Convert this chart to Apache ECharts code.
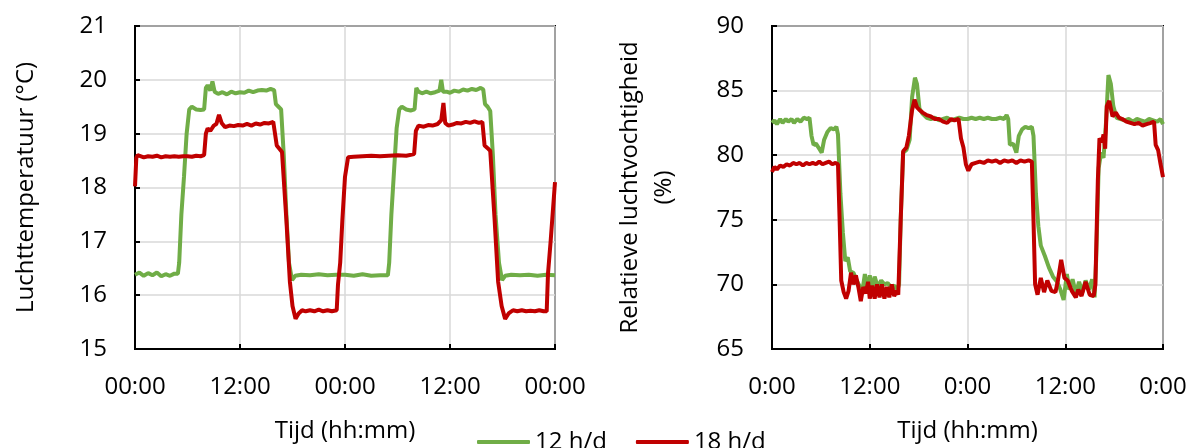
<!DOCTYPE html>
<html>
<head>
<meta charset="utf-8">
<script src="https://cdn.jsdelivr.net/npm/echarts@6/dist/echarts.min.js"></script>
<style>html,body{margin:0;padding:0;background:#fff}#c{width:1190px;height:448px}</style>
</head>
<body>
<div id="c"></div>
<script>
// ---- data (time in hours since start, value) ----
const seriesNames = ['12 h/d', '18 h/d'];
const xTicksLeft = ['00:00', '12:00', '00:00', '12:00', '00:00'];
const xTicksRight = ['0:00', '12:00', '0:00', '12:00', '0:00'];
const yTicksLeft = [15, 16, 17, 18, 19, 20, 21];
const yTicksRight = [65, 70, 75, 80, 85, 90];

// Luchttemperatuur, 12 h/d
const temp12 = [[0,16.38],[0.5,16.42],[1,16.36],[1.5,16.41],[2,16.37],[2.5,16.42],[3,16.35],[3.5,16.39],[4,16.36],[4.5,16.4],[4.9,16.4],[5.05,16.6],[5.3,17.5],[5.6,18.2],[5.9,19.0],[6.2,19.45],[6.5,19.5],[7,19.45],[7.5,19.44],[7.9,19.45],[8.1,19.85],[8.3,19.9],[8.6,19.8],[8.85,19.97],[9.1,19.78],[9.5,19.74],[10,19.77],[10.5,19.73],[11,19.78],[11.5,19.75],[12,19.77],[12.5,19.76],[13,19.8],[13.5,19.77],[14,19.8],[14.5,19.81],[15,19.8],[15.5,19.83],[15.9,19.81],[16.1,19.55],[16.4,19.5],[16.7,19.45],[17.0,18.6],[17.3,17.5],[17.6,16.6],[17.95,16.28],[18.3,16.36],[19,16.38],[20,16.37],[21,16.39],[22,16.37],[23,16.38],[24,16.38],[25,16.36],[26,16.39],[27,16.36],[28,16.37],[28.9,16.37],[29.05,16.6],[29.3,17.5],[29.6,18.3],[29.9,19.1],[30.2,19.45],[30.5,19.5],[31,19.45],[31.5,19.43],[31.95,19.45],[32.15,19.85],[32.4,19.78],[32.8,19.75],[33.3,19.78],[33.8,19.75],[34.3,19.77],[34.8,19.8],[35.0,20.0],[35.2,19.78],[35.6,19.78],[36,19.76],[36.5,19.8],[37,19.78],[37.5,19.82],[38,19.8],[38.5,19.83],[39,19.81],[39.5,19.85],[39.8,19.82],[40.0,19.55],[40.3,19.5],[40.6,19.42],[40.9,18.6],[41.2,17.5],[41.6,16.6],[41.95,16.28],[42.3,16.36],[43,16.38],[44,16.37],[45,16.38],[46,16.36],[47,16.38],[48,16.37]];

// Luchttemperatuur, 18 h/d
const temp18 = [[0,18.02],[0.15,18.55],[0.3,18.6],[1,18.56],[1.5,18.58],[2,18.57],[2.5,18.59],[3,18.56],[3.5,18.58],[4,18.57],[4.5,18.58],[5,18.57],[5.5,18.58],[6,18.58],[6.5,18.57],[7,18.59],[7.5,18.58],[7.9,18.6],[8.1,19.0],[8.3,19.1],[8.6,19.05],[9,19.15],[9.3,19.18],[9.6,19.35],[9.9,19.2],[10.3,19.12],[10.8,19.15],[11.3,19.14],[11.8,19.16],[12.3,19.15],[12.8,19.18],[13.3,19.15],[13.8,19.19],[14.3,19.17],[14.8,19.2],[15.3,19.19],[15.8,19.22],[16.0,19.2],[16.2,18.78],[16.5,18.72],[16.8,18.66],[17.3,17.4],[17.7,16.25],[18.0,15.8],[18.35,15.56],[18.7,15.66],[19.1,15.72],[19.5,15.7],[20,15.72],[20.5,15.7],[21,15.73],[21.5,15.7],[22,15.72],[22.5,15.7],[23.05,15.72],[23.2,16.2],[23.45,16.6],[23.7,17.4],[24.0,18.2],[24.35,18.56],[25,18.57],[26,18.58],[27,18.59],[28,18.58],[29,18.59],[30,18.6],[31,18.59],[31.9,18.62],[32.1,19.05],[32.4,19.15],[33,19.13],[33.5,19.16],[34,19.15],[34.6,19.18],[35.0,19.25],[35.25,19.57],[35.45,19.2],[35.8,19.15],[36.3,19.17],[36.8,19.2],[37.3,19.19],[37.8,19.22],[38.3,19.2],[38.8,19.23],[39.3,19.2],[39.7,19.22],[39.95,18.78],[40.3,18.73],[40.6,18.68],[41.1,17.4],[41.5,16.25],[41.9,15.8],[42.3,15.56],[42.7,15.66],[43.2,15.72],[43.7,15.7],[44.2,15.72],[44.7,15.7],[45.2,15.71],[45.7,15.7],[46.2,15.72],[46.7,15.7],[47.05,15.7],[47.2,16.4],[47.5,17.0],[48,18.1]];

// Relatieve luchtvochtigheid, 12 h/d
const rh12 = [[0,82.5],[0.3,82.7],[0.6,82.4],[1,82.8],[1.3,82.5],[1.7,82.8],[2,82.6],[2.4,82.8],[2.7,82.5],[3.1,82.8],[3.5,82.6],[3.9,82.9],[4.3,82.8],[4.6,82.9],[4.85,81.5],[5.1,80.8],[5.4,80.9],[5.8,80.5],[6.1,80.2],[6.4,81.2],[6.8,81.8],[7.2,82.1],[7.6,82.0],[7.9,82.2],[8.1,81.6],[8.4,77],[8.7,74],[9.0,71.8],[9.3,72.1],[9.6,71.0],[10.0,70.9],[10.4,70.3],[10.8,69.8],[11.1,69.5],[11.4,70.8],[11.7,69.5],[12.0,70.7],[12.3,69.5],[12.6,70.6],[13.0,69.8],[13.4,70.3],[13.8,70.0],[14.2,70.1],[14.6,69.8],[15.0,69.9],[15.4,69.6],[15.6,70.0],[15.8,75],[16.1,80.2],[16.5,80.4],[16.9,81.2],[17.2,84.5],[17.55,86.0],[17.8,85.5],[18.1,83.6],[18.5,83.2],[19,82.9],[19.5,82.8],[20,82.9],[20.5,82.7],[21,82.8],[21.5,82.9],[22,82.7],[22.5,82.8],[23,82.9],[23.5,82.8],[24,82.8],[24.5,82.9],[25,82.8],[25.5,82.9],[26,82.8],[26.5,82.9],[27,82.8],[27.5,82.8],[28,82.9],[28.5,82.8],[28.8,83.1],[29.0,82.8],[29.2,80.8],[29.6,80.9],[30.0,80.2],[30.3,81.5],[30.7,82.0],[31.1,82.2],[31.5,82.1],[31.9,82.2],[32.1,81.5],[32.4,77],[32.7,74.5],[33.0,73.0],[33.5,72.2],[34.0,71.3],[34.5,70.6],[35.0,70.2],[35.4,69.6],[35.8,68.8],[36.2,70.8],[36.5,69.6],[36.9,70.4],[37.3,69.3],[37.7,70.2],[38.1,69.4],[38.5,70.3],[38.9,69.6],[39.3,70.4],[39.6,69.0],[39.8,72],[40.1,79],[40.4,80.2],[40.7,79.8],[41.0,82.5],[41.3,86.2],[41.6,85.5],[41.9,83.8],[42.3,82.9],[42.8,82.8],[43.3,82.7],[43.8,82.8],[44.3,82.6],[44.8,82.8],[45.3,82.7],[45.8,82.6],[46.3,82.8],[46.8,82.7],[47.3,82.6],[47.7,82.8],[48,82.4]];

// Relatieve luchtvochtigheid, 18 h/d
const rh18 = [[0,78.7],[0.3,79.1],[0.6,78.9],[1,79.2],[1.4,79.1],[1.8,79.3],[2.2,79.2],[2.6,79.4],[3,79.3],[3.4,79.4],[3.8,79.2],[4.2,79.4],[4.6,79.3],[5,79.4],[5.4,79.3],[5.8,79.5],[6.2,79.3],[6.6,79.4],[7,79.5],[7.4,79.3],[7.8,79.4],[8.1,79.3],[8.3,75],[8.5,70.3],[8.8,69.4],[9.1,68.9],[9.4,69.5],[9.7,70.9],[10.0,70.0],[10.3,70.7],[10.6,69.8],[10.9,68.7],[11.2,69.8],[11.5,69.3],[11.8,70.2],[12.0,68.9],[12.3,69.9],[12.6,68.9],[12.9,70.0],[13.2,69.0],[13.5,70.0],[13.8,68.9],[14.1,69.8],[14.4,69.0],[14.7,70.0],[15.0,69.1],[15.3,69.5],[15.5,69.2],[15.8,75],[16.1,80.3],[16.5,80.6],[16.8,81.5],[17.2,83.5],[17.5,84.3],[17.8,83.7],[18.1,83.5],[18.5,83.3],[19,83.1],[19.5,83.0],[20,82.8],[20.5,82.8],[21,82.6],[21.5,82.5],[22,82.8],[22.4,82.7],[22.9,82.8],[23.2,81.3],[23.5,80.6],[23.8,79.3],[24.1,78.8],[24.5,79.3],[25,79.4],[25.5,79.5],[26,79.4],[26.5,79.6],[27,79.5],[27.5,79.6],[28,79.4],[28.5,79.6],[29,79.5],[29.5,79.6],[30,79.4],[30.5,79.6],[31,79.5],[31.5,79.6],[31.9,79.5],[32.1,75],[32.3,70.0],[32.6,69.2],[33.0,70.5],[33.4,69.4],[33.8,70.3],[34.3,69.5],[34.8,69.4],[35.1,70.3],[35.5,71.9],[35.9,70.5],[36.3,70.3],[36.8,69.5],[37.3,69.0],[37.6,69.6],[38.0,69.1],[38.5,70.2],[39.0,69.2],[39.5,69.1],[39.7,70.0],[40.0,78],[40.2,81.3],[40.5,81.0],[40.7,81.6],[40.9,80.5],[41.1,83.8],[41.4,84.2],[41.8,83.0],[42.2,83.3],[42.6,82.9],[43,82.8],[43.5,82.6],[44,82.5],[44.5,82.4],[45,82.5],[45.5,82.3],[46,82.4],[46.5,82.5],[46.9,82.6],[47.1,80.8],[47.4,80.4],[47.7,79.3],[48,78.3]];

// ---- chart ----
const FONT = 'Open Sans';
const FS = 24;
const GREEN = '#70ad47', RED = '#c00000';
const seriesColors = [GREEN, RED];

function xAxis(gridIndex, labels) {
  return {
    type: 'value', gridIndex, min: 0, max: 48, interval: 12,
    name: 'Tijd (hh:mm)', nameLocation: 'middle', nameGap: 70,
    nameTextStyle: { fontFamily: FONT, fontSize: FS, color: '#000' },
    axisLine: { show: true, lineStyle: { color: '#000', width: 2 } },
    axisTick: { show: true, inside: true, length: 5, lineStyle: { color: '#000', width: 2 } },
    axisLabel: { margin: 26, fontFamily: FONT, fontSize: FS, color: '#000',
      formatter: (v) => labels[Math.round(v / 12)] },
    splitLine: { show: true, lineStyle: { color: '#d9d9d9', width: 1.5 } }
  };
}
function yAxis(gridIndex, min, max, interval, name, gap) {
  return {
    type: 'value', gridIndex, min, max, interval,
    name, nameLocation: 'middle', nameGap: gap, nameRotate: 90,
    nameTextStyle: { fontFamily: FONT, fontSize: FS, color: '#000', lineHeight: 34 },
    axisLine: { show: true, lineStyle: { color: '#000', width: 2 } },
    axisTick: { show: true, inside: true, length: 5, lineStyle: { color: '#000', width: 2 } },
    axisLabel: { margin: 28, fontFamily: FONT, fontSize: FS, color: '#000' },
    splitLine: { show: true, lineStyle: { color: '#d9d9d9', width: 1.5 } }
  };
}
function line(name, data, color, xi) {
  return {
    name, type: 'line', xAxisIndex: xi, yAxisIndex: xi, data,
    symbol: 'none', smooth: false, animation: false,
    lineStyle: { color, width: 4 }, itemStyle: { color }
  };
}

const chart = echarts.init(document.getElementById('c'), null, { renderer: 'canvas' });
chart.setOption({
  animation: false,
  backgroundColor: '#fff',
  textStyle: { fontFamily: FONT },
  grid: [
    { left: 135, top: 26, width: 420, height: 324, show: true, borderColor: '#000', borderWidth: 2, containLabel: false },
    { left: 772, top: 26, width: 391, height: 324, show: true, borderColor: '#000', borderWidth: 2, containLabel: false }
  ],
  xAxis: [xAxis(0, xTicksLeft), xAxis(1, xTicksRight)],
  yAxis: [
    yAxis(0, yTicksLeft[0], yTicksLeft[yTicksLeft.length - 1], 1, 'Luchttemperatuur (°C)', 92),
    yAxis(1, yTicksRight[0], yTicksRight[yTicksRight.length - 1], 5, 'Relatieve luchtvochtigheid\n(%)', 91)
  ],
  legend: {
    data: seriesNames.map((n, i) => ({
      name: n, icon: 'roundRect',
      itemStyle: { color: seriesColors[i], borderWidth: 0, opacity: 1 }
    })),
    left: 477, top: 430, padding: 0, itemWidth: 53, itemHeight: 4, itemGap: 29,
    textStyle: { fontFamily: FONT, fontSize: FS, color: '#000' }
  },
  series: [
    line(seriesNames[0], temp12, GREEN, 0),
    line(seriesNames[1], temp18, RED, 0),
    line(seriesNames[0], rh12, GREEN, 1),
    line(seriesNames[1], rh18, RED, 1)
  ]
});
</script>
</body>
</html>
